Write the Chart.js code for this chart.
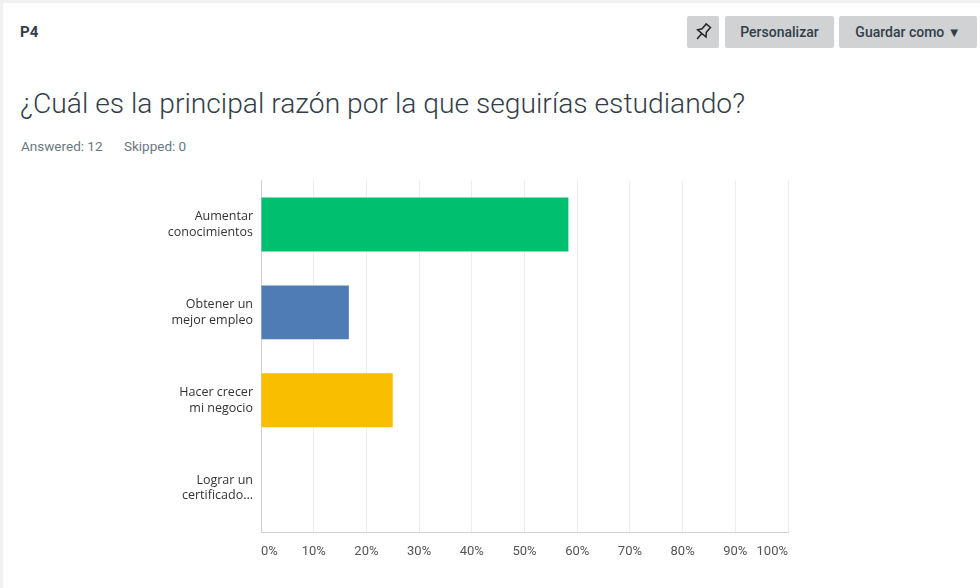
<!DOCTYPE html>
<html><head><meta charset="utf-8">
<script src="https://cdn.jsdelivr.net/npm/chart.js@4"></script>
<style>
html,body{margin:0;padding:0;width:980px;height:588px;overflow:hidden;background:#f1f1f1;}
#card{position:absolute;left:3px;top:3px;width:977px;height:585px;background:#fff;}
#p4{position:absolute;left:17px;top:20px;font:bold 15px Roboto,sans-serif;color:#333e48;}
.btn{position:absolute;top:13px;height:32px;background:#d0d2d3;border-radius:2px;font:500 14px Roboto,sans-serif;color:#333e48;line-height:32px;text-align:center;}
#title{position:absolute;left:17px;top:84px;font:300 28px Roboto,sans-serif;color:#333e48;white-space:nowrap;transform-origin:0 0;}
#stats{position:absolute;left:18px;top:135px;font:13.5px Roboto,sans-serif;color:#6b787f;white-space:nowrap;}
#stats span{margin-right:18px;}
#wrap{position:absolute;left:0;top:157px;width:980px;height:431px;}
</style></head><body>
<div id="card">
<div id="p4">P4</div>
<div class="btn" style="left:684px;width:32px;">
<svg width="22" height="22" viewBox="0 0 24 24" style="margin-top:5px"><g transform="rotate(40 12 12)" fill="none" stroke="#222" stroke-width="1.6"><path d="M8 3h8M9 3v7l-3 4h12l-3-4V3M12 14v8"/></g></svg>
</div>
<div class="btn" style="left:722px;width:109px;">Personalizar</div>
<div class="btn" style="left:836px;width:138px;">Guardar como <span style="font-size:13px">&#9660;</span></div>
<div id="title">¿Cuál es la principal razón por la que seguirías estudiando?</div>
<div id="stats"><span>Answered: 12</span> <span>Skipped: 0</span></div>
</div>
<div id="wrap"><canvas id="c"></canvas></div>
<script>
const categories = [["Aumentar","conocimientos"],["Obtener un","mejor empleo"],["Hacer crecer","mi negocio"],["Lograr un","certificado..."]];
const values = [58.33, 16.67, 25.00, 0];
const barColors = ["#00bf6f","#507cb6","#f9be00","#9d5ca7"];
const tickValues = [0,10,20,30,40,50,60,70,80,90,100];

const t = document.getElementById('title');
const w = t.getBoundingClientRect().width;
t.style.transform = 'scaleX(' + (725 / w) + ')';

new Chart(document.getElementById('c'), {
  type: 'bar',
  data: {
    labels: categories,
    datasets: [{
      data: values,
      backgroundColor: barColors,
      borderWidth: 0,
      barPercentage: 0.614,
      categoryPercentage: 1.0
    }]
  },
  options: {
    indexAxis: 'y',
    responsive: true,
    maintainAspectRatio: false,
    animation: false,
    layout: { padding: { top: 10, right: 192, bottom: 0, left: 0 } },
    plugins: { legend: { display: false }, tooltip: { enabled: false } },
    scales: {
      x: {
        min: 0, max: 100,
        afterBuildTicks: s => { s.ticks = tickValues.map(v => ({ value: v })); },
        afterFit: s => { s.height = 56; },
        ticks: {
          align: 'inner',
          padding: 12,
          color: '#555',
          font: { family: 'Roboto', size: 13 },
          callback: v => v + '%'
        },
        grid: {
          drawTicks: false,
          color: ctx => ctx.index === 0 ? '#cfcfcf' : '#ececec',
          lineWidth: 1
        },
        border: { display: true, color: '#cfcfcf', width: 1 }
      },
      y: {
        afterFit: s => { s.width = 261; },
        ticks: {
          padding: 8,
          color: '#333',
          font: { family: 'Open Sans', size: 12.5, lineHeight: 1.25 }
        },
        grid: { display: false, drawTicks: false },
        border: { display: true, color: '#cfcfcf', width: 1 }
      }
    }
  }
});
</script>
</body></html>
